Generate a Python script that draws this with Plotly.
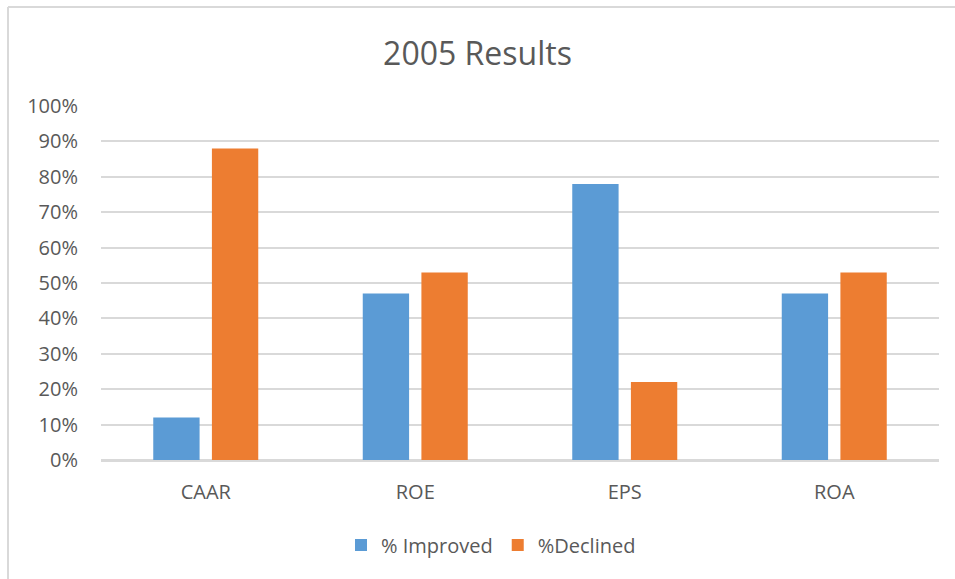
import plotly.graph_objects as go

categories = ["CAAR", "ROE", "EPS", "ROA"]
improved = [12, 47, 78, 47]
declined = [88, 53, 22, 53]
series_names = ["% Improved", "%Declined"]
tick_vals = [0, 10, 20, 30, 40, 50, 60, 70, 80, 90, 100]
tick_text = [f"{v}%" for v in tick_vals]

BLUE = "#5B9BD5"
ORANGE = "#ED7D31"
TXT = "#595959"
GRID = "#D9D9D9"
FONT = "Open Sans"

fig = go.Figure()
fig.add_trace(go.Bar(x=categories, y=improved, name=series_names[0],
                     marker=dict(color=BLUE, line=dict(width=0))))
fig.add_trace(go.Bar(x=categories, y=declined, name=series_names[1],
                     marker=dict(color=ORANGE, line=dict(width=0))))

W, H = 955, 579
L, R, T, B = 101, 16, 106, 119
pw, ph = W - L - R, H - T - B

fig.update_layout(
    width=W, height=H,
    margin=dict(l=L, r=R, t=T, b=B, pad=0),
    paper_bgcolor="white", plot_bgcolor="white",
    barmode="group", bargap=0.44, bargroupgap=0.21,
    font=dict(family=FONT, color=TXT),
    title=dict(text="2005 Results", x=0.5, xanchor="center",
               y=1 - 54 / H, yanchor="middle",
               font=dict(size=32, color=TXT, family=FONT)),
    legend=dict(orientation="h", x=(491 - L) / pw, xanchor="center",
                y=-(545 - (T + ph)) / ph, yanchor="middle",
                font=dict(size=20, color=TXT, family=FONT),
                itemwidth=30, traceorder="normal"),
    xaxis=dict(showgrid=False, showline=False, zeroline=False,
               tickfont=dict(size=20, color=TXT), ticks="",
               ticklabelstandoff=18),
    yaxis=dict(range=[0, 100], tickvals=tick_vals, ticktext=tick_text,
               showgrid=True, gridcolor=GRID, gridwidth=2,
               zeroline=True, zerolinecolor=GRID, zerolinewidth=3,
               showline=False, ticks="",
               tickfont=dict(size=20, color=TXT), ticklabelstandoff=22),
    shapes=[
        dict(type="line", xref="paper", yref="paper",
             x0=(8 - L) / pw, x1=(W - L) / pw,
             y0=1 + (T - 7) / ph, y1=1 + (T - 7) / ph,
             line=dict(color=GRID, width=2)),
        dict(type="line", xref="paper", yref="paper",
             x0=(8 - L) / pw, x1=(8 - L) / pw,
             y0=1 + (T - 7) / ph, y1=-(H - T - ph) / ph,
             line=dict(color=GRID, width=2)),
    ],
)

fig.write_html("out.html")
